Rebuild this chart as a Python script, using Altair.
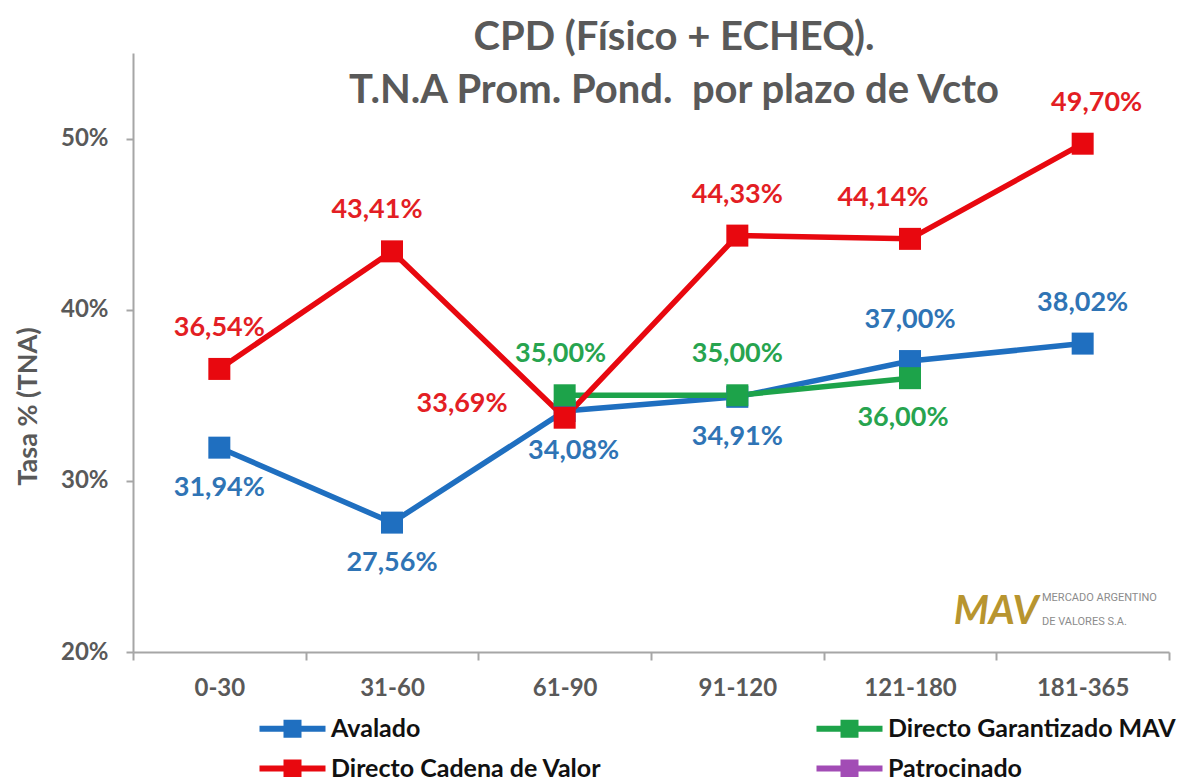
import altair as alt
import pandas as pd

# ---- data ----
categories = ["0-30", "31-60", "61-90", "91-120", "121-180", "181-365"]
series_order = ["Avalado", "Directo Garantizado MAV", "Directo Cadena de Valor", "Patrocinado"]
series_colors = ["#1F6FC0", "#1DA34A", "#E8080F", "#A24CB5"]
label_colors = ["#2F74B5", "#27A44F", "#E31E24", "#A24CB5"]

avalado = [31.94, 27.56, 34.08, 34.91, 37.00, 38.02]
garantizado = [None, None, 35.00, 35.00, 36.00, None]
cadena = [36.54, 43.41, 33.69, 44.33, 44.14, 49.70]
patrocinado = [None, None, None, None, None, None]

# where each value label sits relative to its marker
avalado_side = ["below", "below", "below", "below", "above", "above"]
garantizado_side = [None, None, "above", "above", "below", None]
cadena_side = ["above", "above", "left", "above", "above", "above"]
patrocinado_side = [None] * 6
# small horizontal nudges of individual labels
avalado_nudge = [0, 0, 9, 0, 0, 0]
garantizado_nudge = [0, 0, -4, 0, -7, 0]
cadena_nudge = [0, -15, 0, 0, -27, 14]
patrocinado_nudge = [0] * 6

title_lines = ["CPD (Físico + ECHEQ).", "T.N.A Prom. Pond.\u00a0 por plazo de Vcto"]
logo_lines = ["MERCADO ARGENTINO", "DE VALORES S.A."]

rows = []
for name, vals, sides, nudges in [
    ("Avalado", avalado, avalado_side, avalado_nudge),
    ("Directo Garantizado MAV", garantizado, garantizado_side, garantizado_nudge),
    ("Directo Cadena de Valor", cadena, cadena_side, cadena_nudge),
    ("Patrocinado", patrocinado, patrocinado_side, patrocinado_nudge),
]:
    for i, (c, v, s, n) in enumerate(zip(categories, vals, sides, nudges)):
        if v is not None:
            rows.append({"cat": c, "idx": i, "serie": name, "value": v, "side": s, "nudge": n})
df = pd.DataFrame(rows)

FONT = "Lato"
GREY = "#595959"
AXIS_GREY = "#A6A6A6"

x_enc = alt.X(
    "cat:N",
    sort=categories,
    scale=alt.Scale(type="band", domain=categories, paddingInner=0, paddingOuter=0),
    axis=alt.Axis(
        title=None,
        tickBand="extent",
        labelAngle=0,
        labelFont=FONT,
        labelFontSize=24,
        labelFontWeight="bold",
        labelColor=GREY,
        labelPadding=16,
        tickSize=8,
        tickWidth=2,
        tickColor=AXIS_GREY,
        domainColor=AXIS_GREY,
        domainWidth=2,
    ),
)
y_enc = alt.Y(
    "value:Q",
    scale=alt.Scale(domain=[20, 55], nice=False, zero=False),
    axis=alt.Axis(
        values=[20, 30, 40, 50],
        labelExpr="datum.value + '%'",
        title="Tasa % (TNA)",
        titleFont=FONT,
        titleFontSize=27,
        titleFontWeight="bold",
        titleColor=GREY,
        titleX=-105,
        titleY=353,
        titleBaseline="middle",
        titleAngle=270,
        labelFont=FONT,
        labelFontSize=24,
        labelFontWeight="bold",
        labelColor=GREY,
        labelPadding=18,
        tickSize=7,
        tickWidth=2,
        tickColor=AXIS_GREY,
        domainColor=AXIS_GREY,
        domainWidth=2,
        grid=False,
    ),
)

color_scale = alt.Scale(domain=series_order, range=series_colors)
label_scale = alt.Scale(domain=series_order, range=label_colors)

legend_symbol = "M-3.3,-0.3H3.3V0.3H-3.3Z M-0.9,-0.9H0.9V0.9H-0.9Z"
legend = alt.Legend(
    title=None,
    orient="none",
    legendX=124,
    legendY=663,
    direction="horizontal",
    columns=2,
    columnPadding=212,
    rowPadding=14,
    symbolType=legend_symbol,
    symbolSize=400,
    symbolStrokeWidth=0,
    symbolOffset=23,
    labelOffset=26,
    labelFont=FONT,
    labelFontSize=25,
    labelFontWeight="bold",
    labelColor="#111111",
    labelLimit=0,
)

base = alt.Chart(df)

lines = base.mark_line(strokeWidth=5.5).encode(
    x=x_enc, y=y_enc,
    color=alt.Color("serie:N", scale=color_scale, sort=series_order, legend=legend),
    order=alt.Order("idx:Q"),
)

points = base.mark_square(size=484, opacity=1).encode(
    x=x_enc, y=y_enc,
    color=alt.Color("serie:N", scale=color_scale, sort=series_order, legend=legend),
)

layers = [lines, points]

label_base = base.transform_calculate(
    label="replace(format(datum.value, '.2f'), '.', ',') + '%'"
)
text_style = dict(font=FONT, fontSize=27, fontWeight="bold")
side_props = {
    "above": dict(dy=-41),
    "below": dict(dy=40),
    "left": dict(dx=-57, dy=-14, align="right"),
}
combos = sorted(set(zip(df["side"], df["nudge"])))
for side, nudge in combos:
    props = dict(side_props[side])
    props["dx"] = props.get("dx", 0) + int(nudge)
    layers.append(
        label_base.transform_filter(
            (alt.datum.side == side) & (alt.datum.nudge == int(nudge))
        )
        .mark_text(**text_style, **props)
        .encode(
            x=x_enc, y=y_enc, text="label:N",
            fill=alt.Fill("serie:N", scale=label_scale, legend=None),
        )
    )

title_style = dict(font=FONT, fontSize=40, fontWeight="bold", color=GREY, align="center", baseline="alphabetic")
title1 = alt.Chart(pd.DataFrame({"t": [title_lines[0]]})).mark_text(**title_style).encode(
    x=alt.value(541), y=alt.value(-3), text="t:N"
)
title2 = alt.Chart(pd.DataFrame({"t": [title_lines[1]]})).mark_text(**title_style).encode(
    x=alt.value(541), y=alt.value(50), text="t:N"
)

logo = alt.Chart(pd.DataFrame({"t": ["MAV"]})).mark_text(
    font=FONT, fontSize=40, fontWeight="bold", fontStyle="italic", color="#B8952F", align="center", baseline="middle"
).encode(x=alt.value(863), y=alt.value(559), text="t:N")
logo1 = alt.Chart(pd.DataFrame({"t": [logo_lines[0]]})).mark_text(
    font="Roboto", fontSize=11, color="#8C8C8C", align="left", baseline="middle"
).encode(x=alt.value(909), y=alt.value(545), text="t:N")
logo2 = alt.Chart(pd.DataFrame({"t": [logo_lines[1]]})).mark_text(
    font="Roboto", fontSize=11, color="#8C8C8C", align="left", baseline="middle"
).encode(x=alt.value(909), y=alt.value(569), text="t:N")

chart = (
    alt.layer(*layers, title1, title2, logo, logo1, logo2)
    .properties(
        width=1036,
        height=599,
        padding={"left": 125, "top": 45, "right": 13, "bottom": 130},
        autosize=alt.AutoSizeParams(type="none"),
        background="white",
    )
    .configure_view(stroke=None)
)

chart.save("out.html", embed_options={"renderer": "svg", "actions": False})
